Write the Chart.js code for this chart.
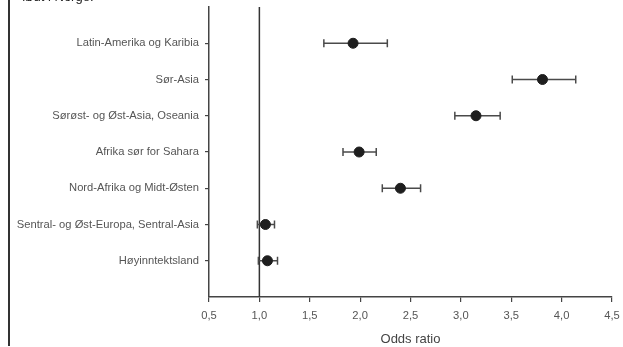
<!DOCTYPE html>
<html>
<head>
<meta charset="utf-8">
<script src="https://cdn.jsdelivr.net/npm/chart.js@4"></script>
<style>
  body { margin: 0; background: #fff; }
  #wrap { position: relative; width: 623px; height: 347px; overflow: hidden; }
  #frame { position: absolute; left: 8px; top: 0; width: 1.5px; height: 346px; background: #333; }
  #head { position: absolute; left: 22px; top: -10px; font: 13px "Liberation Sans", Arial, sans-serif;
          line-height: 13px; color: #222; }
</style>
</head>
<body>
<div id="wrap">
  <canvas id="oddsChart"></canvas>
  <div id="frame"></div>
  <div id="head">født i Norge.</div>
</div>
<script>
var categories = [
    'Latin-Amerika og Karibia',
    'Sør-Asia',
    'Sørøst- og Øst-Asia, Oseania',
    'Afrika sør for Sahara',
    'Nord-Afrika og Midt-Østen',
    'Sentral- og Øst-Europa, Sentral-Asia',
    'Høyinntektsland'
]
var oddsRatio = [1.93, 3.81, 3.15, 1.99, 2.40, 1.06, 1.08]
var ciLow = [1.64, 3.51, 2.94, 1.83, 2.22, 0.98, 0.99]
var ciHigh = [2.27, 4.14, 3.39, 2.16, 2.60, 1.15, 1.18]
var referenceLine = 1.0

var font = { family: '"Liberation Sans", Arial, sans-serif', size: 11.2 }

var datasets = []

datasets.push({
    data: oddsRatio.map((v, i) => ({ x: v, y: i + 1 })),
    backgroundColor: '#1e1e1e',
    borderColor: '#1e1e1e',
    pointRadius: 5,
    order: 0
})

categories.forEach((c, i) => {
    datasets.push({
        data: [{ x: ciLow[i], y: i + 1 }, { x: ciHigh[i], y: i + 1 }],
        showLine: true,
        borderColor: '#4a4a4a',
        borderWidth: 1.5,
        pointStyle: 'line',
        rotation: 90,
        pointRadius: 4,
        pointBorderWidth: 1.5,
        pointBorderColor: '#4a4a4a',
        order: 1
    })
})

datasets.push({
    data: [{ x: referenceLine, y: 0 }, { x: referenceLine, y: 8 }],
    showLine: true,
    borderColor: '#333',
    borderWidth: 1.5,
    pointRadius: 0,
    order: 2
})

var ctx = document.getElementById('oddsChart').getContext('2d');
var oddsChart = new Chart(ctx, {
    type: 'scatter',
    data: { datasets: datasets },
    options: {
        responsive: true,
        maintainAspectRatio: false,
        animation: false,
        events: [],
        layout: { padding: { left: 0, right: 11, top: 7, bottom: 0 } },
        scales: {
            x: {
                min: 0.5,
                max: 4.5,
                ticks: {
                    stepSize: 0.5,
                    color: '#555',
                    font: font,
                    padding: 7,
                    maxRotation: 0,
                    callback: (v) => v.toFixed(1).replace('.', ',')
                },
                grid: { drawOnChartArea: false, tickLength: 5, color: '#444', lineWidth: 1.2 },
                border: { color: '#444', width: 1.5 },
                title: {
                    display: true,
                    text: 'Odds ratio',
                    color: '#444',
                    font: { family: font.family, size: 13 },
                    padding: { top: 6, bottom: 0 }
                },
                afterFit: (s) => { s.height = 50; s.paddingLeft = 0; s.paddingRight = 0; }
            },
            y: {
                min: 0,
                max: 8,
                reverse: true,
                afterBuildTicks: (s) => { s.ticks = categories.map((c, i) => ({ value: i + 1 })); },
                ticks: {
                    color: '#555',
                    font: font,
                    padding: 6,
                    autoSkip: false,
                    callback: (v) => categories[v - 1]
                },
                grid: { drawOnChartArea: false, tickLength: 4, color: '#444', lineWidth: 1.2 },
                border: { color: '#444', width: 1.5 },
                afterFit: (s) => { s.width = 209; s.paddingTop = 0; s.paddingBottom = 0; }
            }
        },
        plugins: {
            legend: { display: false },
            tooltip: { enabled: false }
        }
    }
});
</script>
</body>
</html>
